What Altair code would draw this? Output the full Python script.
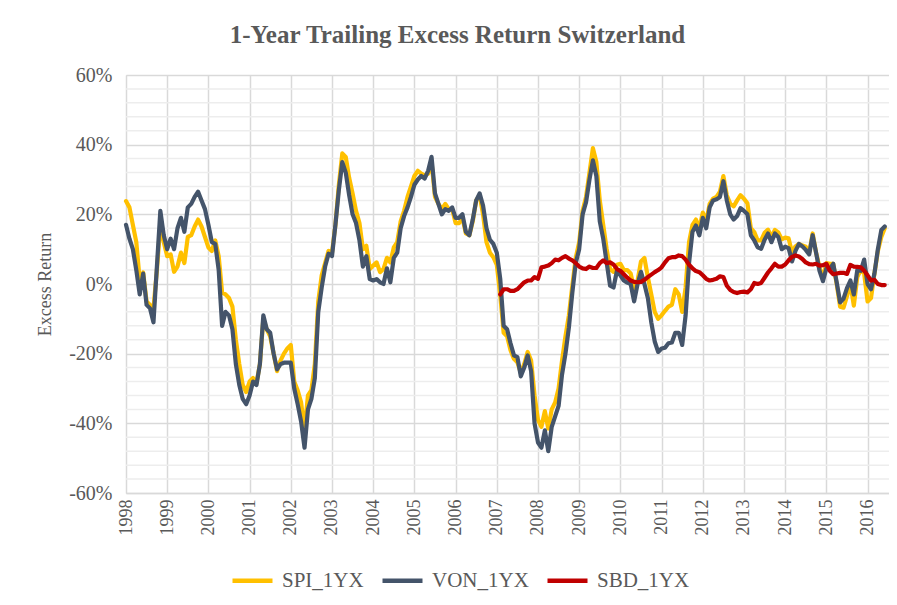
import altair as alt
import pandas as pd

# ---- data (monthly, starting January 1998) ----
start_year = 1998
series_names = ["SPI_1YX", "VON_1YX", "SBD_1YX"]
series_colors = ["#FFC000", "#44546A", "#C00000"]

spi = [23.8, 22, 17, 12, 1, 3.3, -5, -6, -7, 4, 17, 12,
       8, 8.5, 3.5, 5, 9, 6, 13.5, 14, 16.5, 18.5, 16.5, 13.5,
       10.5, 9.5, 12.5, 8, -2.5, -3, -4, -6.5, -16, -23, -29, -31,
       -28, -27, -28.5, -23, -10, -13, -15, -20, -25, -22, -20, -18.5,
       -17.5, -28, -30.5, -34, -42, -32, -30.5, -23, -5, 2.5, 6, 9.5,
       9, 17, 28.5, 37.5, 36.5, 30.5, 26, 21, 17.5, 10, 11, 4.3,
       5.3, 6.2, 3.4, 4.3, 7.5, 6.2, 10.5, 12, 18, 21, 25, 28,
       31, 32.5, 31.7, 31.2, 31.7, 35, 25, 23, 21.5, 23, 21.5, 21.5,
       17.5, 17.5, 19, 14.5, 14, 18, 24, 25.5, 20, 12, 9, 7.7,
       5.5, -3, -14, -15, -19, -21.5, -22.5, -25.5, -23, -19.5, -22, -32,
       -39, -41, -36.5, -41.5, -36, -34, -30, -22, -15, -9, -0.5, 7.5,
       12, 21, 25, 32, 39, 35, 24, 17, 10, 4.3, 3.5, 5.5,
       5.8, 4, 4, 3, -1.5, 1, 6.5, 7.5, 2, -3, -8, -10,
       -9, -7.7, -6.5, -6, -1.5, -3, -8, -1, 12, 17, 18.5, 16,
       20.5, 18, 23, 24.5, 25, 26.5, 31, 25.5, 23, 22.3, 24, 25.5,
       24.5, 23.2, 16, 14.9, 12.5, 12.5, 14.7, 15.6, 13.5, 15.5, 14.8, 12.8,
       13.3, 13.1, 9, 10.8, 11.5, 11.1, 10.7, 9, 14.5, 9, 4.8, 1.6,
       6, 5.8, 5.8, 0, -6.5, -6.8, -3.5, 0, -6.2, 2, 4, 3,
       -5, -4, 3, 9.5, 13.5, 16]

von = [17, 13, 10, 4, -3, 3, -6, -7, -11, 5, 21, 14,
       10, 13, 10, 16, 19, 15, 22, 23, 25, 26.5, 24, 21.5,
       17, 12, 11.5, 4, -12, -8, -9, -13, -23, -29, -33, -34.5,
       -32, -28, -29, -23, -9, -13, -14, -20, -24.5, -23, -22.6, -22.6,
       -22.6, -30, -34.5, -39.5, -47, -36, -33, -27, -8, -1, 5, 8.7,
       8, 17, 27, 35, 32, 25.5, 20, 17.5, 12.5, 5, 8, 1.4,
       1, 1.4, 0.5, 0, 4.5, 0.5, 7.5, 9, 16, 19.5, 22, 25,
       28.5, 30, 31, 30.3, 32.5, 36.5, 26, 23, 20, 21.5, 21, 22,
       19, 19, 20, 15, 14, 18.5, 24, 26, 22.5, 16, 12.7, 11.5,
       9, 1.5, -12, -13, -17, -20.5, -21, -26.5, -24, -20.5, -25, -40,
       -45.5, -47, -42, -48, -41, -38, -35, -26, -20, -12.5, -2.5, 6,
       10, 20, 23.5, 30, 35.5, 31, 18, 13, 6.2, -0.5, -1, 3.8,
       2.5, 1, 0.4, 0, -5, 0, 3.5, 0, -4, -11, -16.5, -19.5,
       -18.5, -18.3, -17, -16.8, -14, -14, -17.5, -9, 6, 15, 16.8, 14,
       19, 16, 22, 24, 24.3, 25, 29.5, 24, 20, 18.5, 19.5, 21.8,
       21, 20, 14, 12.5, 10.5, 10.1, 12.7, 14.5, 12, 14.5, 13.5, 10,
       10.7, 10.3, 6.5, 9.5, 11.5, 10.8, 9.8, 8.5, 14, 9, 3.8, 0.8,
       4.5, 4.3, 5.8, 0.5, -5.3, -4.2, -1.2, 1, -3, 4, 3.8, 7,
       0, -1.5, 3, 10, 15.5, 16.5]

sbd_start_month = 109  # February 2007
sbd = [-3, -1.5, -1.5, -2, -2, -1.5, -0.5, 0.5, 1, 1, 2,
       1.5, 4.8, 5, 5.3, 6, 7, 6.8, 7.5, 8, 7.3, 6.8, 6,
       5, 4.5, 4.3, 5, 4.6, 4.6, 6, 6.8, 6, 6.2, 5.6, 4.3,
       3.8, 2.8, 1.8, 1, 0.6, 0.5, 0.6, 1.2, 2, 2.7, 3.4, 4,
       4.8, 6.2, 7.4, 7.7, 7.7, 8.2, 8, 7, 5.5, 4.5, 3.7, 3.4,
       2.5, 1.5, 1, 1.2, 1.5, 2.2, 2, -0.5, -1.7, -2.3, -2.6, -2.3,
       -2.2, -2.4, -1.5, 0.3, 0, 0.3, 1.8, 3.3, 4.5, 5.8, 5, 5,
       5.6, 6.8, 7.8, 8.2, 7.9, 7.2, 6.2, 5.7, 5.6, 5.8, 5.3, 5.4,
       5.8, 3.8, 2.8, 3, 3.2, 3.2, 2.9, 5.5, 5, 4.9, 4.8, 3.8,
       2.5, 1, 1.2, 0, -0.3, -0.3]

year_ticks = list(range(1998, 2017))
y_ticks = [-60, -40, -20, 0, 20, 40, 60]
minor_ticks = [v for v in range(-56, 60, 4) if v % 20 != 0]

# ---- build tables ----
def to_frame(values, name, offset=0):
    return pd.DataFrame({
        "t": [start_year + (offset + k) / 12 for k in range(len(values))],
        "value": values,
        "series": name,
    })

df_spi = to_frame(spi, "SPI_1YX")
df_von = to_frame(von, "VON_1YX")
df_sbd = to_frame(sbd, "SBD_1YX", sbd_start_month)
df_minor = pd.DataFrame({"v": minor_ticks})

FONT = "Liberation Serif"
TXT = "#595959"
GRID = "#d9d9d9"

x_enc = alt.X(
    "t:Q",
    scale=alt.Scale(domain=[1998, 2016.52], nice=False, zero=False),
    axis=alt.Axis(
        values=year_ticks, format="d", labelAngle=270, title=None,
        grid=True, gridColor=GRID, gridWidth=1.5,
        domain=True, domainColor=GRID, domainWidth=1.5,
        ticks=False, labelPadding=6, labelFont=FONT, labelFontSize=18,
        labelColor=TXT, labelOverlap=False,
    ),
)
y_enc = alt.Y(
    "value:Q",
    scale=alt.Scale(domain=[-60, 60], nice=False),
    axis=alt.Axis(
        values=y_ticks, labelExpr="datum.value + '%'",
        title="Excess Return", titleFont=FONT, titleFontSize=18,
        titleFontWeight="normal", titleColor=TXT, titleAngle=270,
        titleAlign="center", titleBaseline="middle", titleX=-81, titleY=209,
        grid=True, gridColor=GRID, gridWidth=1.5,
        domain=False, ticks=False, labelPadding=14,
        labelFont=FONT, labelFontSize=20, labelColor=TXT,
    ),
)
color_enc = alt.Color(
    "series:N",
    scale=alt.Scale(domain=series_names, range=series_colors),
    legend=alt.Legend(
        title=None, orient="none", legendX=104, legendY=483,
        direction="horizontal", symbolType="stroke", symbolSize=1600,
        symbolStrokeWidth=4.5, labelFont=FONT, labelFontSize=21,
        labelColor=TXT, columnPadding=9, labelOffset=7, padding=0,
    ),
)

minor = alt.Chart(df_minor).mark_rule(color="#ededed", strokeWidth=1.5).encode(
    y=alt.Y("v:Q", scale=alt.Scale(domain=[-60, 60], nice=False))
)

def line(df):
    return alt.Chart(df).mark_line(
        strokeWidth=4.2, strokeJoin="round", strokeCap="round"
    ).encode(x=x_enc, y=y_enc, color=color_enc)

chart = alt.layer(minor, line(df_spi), line(df_von), line(df_sbd)).properties(
    width=763,
    height=418,
    padding={"left": 118, "top": 67, "right": 0, "bottom": 104},
    autosize=alt.AutoSizeParams(type="none"),
    title=alt.TitleParams(
        "1-Year Trailing Excess Return Switzerland",
        font=FONT, fontSize=25, fontWeight="bold", color=TXT,
        anchor="middle", dx=-50, dy=30, offset=27, baseline="alphabetic",
    ),
).configure_view(stroke="transparent").configure(background="white")

chart.save("out.html", embed_options={"renderer": "svg", "actions": False})
